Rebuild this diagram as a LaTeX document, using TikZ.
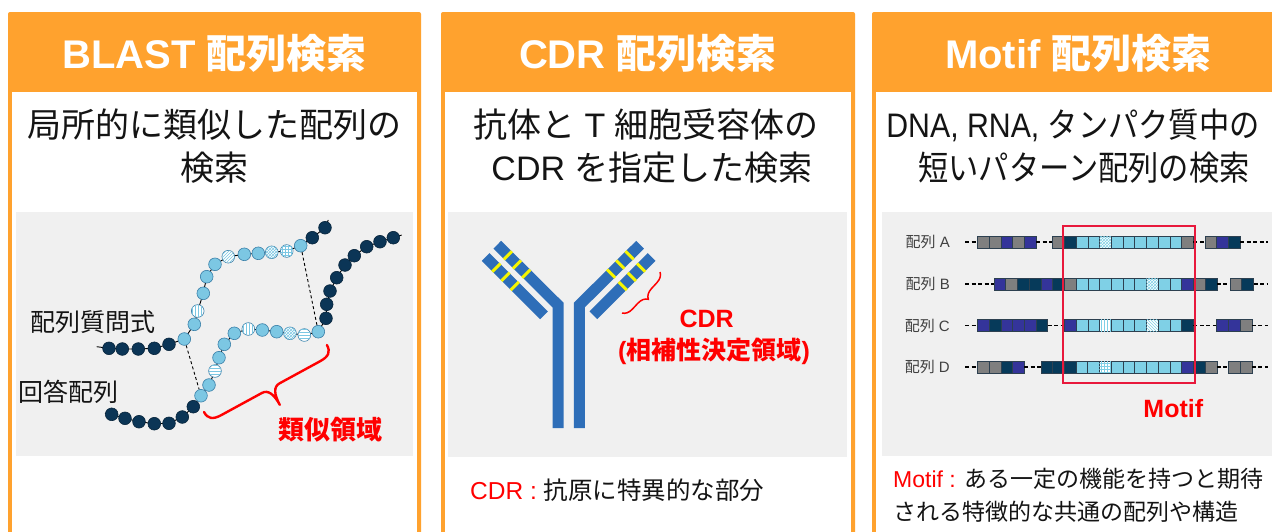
\documentclass[tikz,border=0pt]{standalone}
\usepackage{fontspec}
\setmainfont{Liberation Sans}
\newfontfamily\jp{Noto Sans CJK JP}
\newcommand\lat{\rmfamily}
\usetikzlibrary{patterns,decorations.pathreplacing,calc}

\definecolor{panelorange}{HTML}{FFA22E}
\definecolor{imgbg}{HTML}{F0F0F0}
\definecolor{txtdark}{HTML}{141414}
\definecolor{beaddark}{HTML}{0B3556}
\definecolor{beadlight}{HTML}{7CC7E3}
\definecolor{beadedge}{HTML}{3A7FA8}
\definecolor{abblue}{HTML}{2E6EB8}
\definecolor{cdryellow}{HTML}{F5F500}
\definecolor{cellgray}{HTML}{7F7F7F}
\definecolor{cellindigo}{HTML}{34349A}
\definecolor{cellnavy}{HTML}{063A5A}
\definecolor{celllight}{HTML}{7FD0E6}
\definecolor{celledge}{HTML}{2D4050}
\definecolor{motifred}{HTML}{E8193C}
\definecolor{labelred}{HTML}{FF0000}

% a run of sequence cells: start x, centre y, list of cell styles
\newcommand\seqcells[3]{%
  \foreach \st [count=\k from 0] in {#3} {
    \path[cell,\st] ({#1+\k*11.73},{#2-5.75}) rectangle ++(11.73,11.5);
  }}

\begin{document}
\begin{tikzpicture}[x=1pt,y=-1pt,
  hdr/.style={anchor=base, inner sep=0, text=white, font=\bfseries\fontsize{40}{48}\selectfont},
  sub/.style={anchor=base, inner sep=0, text=txtdark, font=\jp\fontsize{34}{40}\selectfont},
  note/.style={anchor=base west, inner sep=0, text=txtdark, font=\fontsize{23}{28}\selectfont},
  lbl/.style={anchor=base west, inner sep=0, text=txtdark, font=\jp\fontsize{25}{30}\selectfont},
  redlbl/.style={anchor=base, inner sep=0, text=labelred, font=\bfseries\fontsize{25}{30}\selectfont},
  rowlbl/.style={anchor=base east, inner sep=0, text=black!75, font=\fontsize{15}{18}\selectfont},
  chain/.style={black, line width=0.9},
  bead/.style={circle, minimum size=12.7, inner sep=0, line width=0.6},
  dk/.style={fill=beaddark, draw=beaddark!70!black},
  lt/.style={fill=beadlight, draw=beadedge},
  ptn/.style={fill=white, draw=beadedge, postaction={pattern=#1, pattern color=beadlight}},
  bV/.style={ptn=vertical lines},
  bH/.style={ptn=horizontal lines},
  bN/.style={ptn=north east lines},
  bX/.style={ptn=crosshatch},
  bG/.style={ptn=grid},
  simdash/.style={black, line width=0.9, dash pattern=on 3pt off 2.5pt},
  bracered/.style={labelred, line width=2.4, line cap=round, line join=round},
  abband/.style={abblue, line width=11, line join=miter},
  cdrmark/.style={cdryellow, line width=3},
  cell/.style={draw=celledge, line width=0.5},
  cG/.style={fill=cellgray},
  cI/.style={fill=cellindigo},
  cD/.style={fill=cellnavy},
  cL/.style={fill=celllight},
  cCk/.style={fill=white, postaction={pattern=crosshatch, pattern color=celllight}},
  cV/.style={fill=white, postaction={pattern=vertical lines, pattern color=celllight}},
  cS/.style={fill=white, postaction={pattern=north west lines, pattern color=celllight}},
  cH/.style={fill=white, postaction={pattern=grid, pattern color=celllight}},
  seqdash/.style={black, line width=1.6, dash pattern=on 4pt off 2.5pt},
  motifbox/.style={draw=motifred, line width=2, minimum width=132.3, minimum height=157.6, inner sep=0}
]
\useasboundingbox (0,0) rectangle (1272,531);
\clip (0,0) rectangle (1272,531);
\fill[white] (0,0) rectangle (1272,531);

% ---- three panels: orange frame with header band ----
\foreach \xl/\xr in {8/421, 441/855, 872/1285} {
  \fill[panelorange, rounded corners=2] (\xl,12) rectangle (\xr,580);
  \fill[white] (\xl+4,92) rectangle (\xr-4,580);
}
\fill[imgbg] (16,212) rectangle (413,456);
\fill[imgbg] (448,212) rectangle (847,457);
\fill[imgbg] (882,212) rectangle (1277,456);

% ---- headers ----
\node[hdr] (h1) at (214.5,68) {BLAST {\jp 配列検索}};
\node[hdr] (h2) at (648,68) {CDR {\jp 配列検索}};
\node[hdr] (h3) at (1078.5,68) {Motif {\jp 配列検索}};

% ---- descriptions ----
\node[sub] (s1a) at (214.5,137.5) {局所的に類似した配列の};
\node[sub] (s1b) at (214.5,180.5) {検索};
\node[sub] (s2a) at (646,137.5) {抗体と{\lat\ T\ }細胞受容体の};
\node[sub] (s2b) at (652,180.5) {{\lat CDR }を指定した検索};
\node[sub] (s3a) at (1073,137.5) {\scalebox{0.89}[1]{{\lat DNA, RNA, }タンパク質中の}};
\node[sub] (s3b) at (1084,180.5) {\scalebox{0.89}[1]{短いパターン配列の検索}};

% ================= BLAST: two bead chains =================
\coordinate (qs) at (96.7,346.7);
\coordinate (qe) at (328.3,220);
\foreach \i/\x/\y in {1/109/348.3, 2/122.3/349, 3/138.3/349, 4/154.3/348.3,
  5/169/344.3, 6/184.3/339, 7/194.3/324.3, 8/197.7/311, 9/203.3/293.3,
  10/206.7/276.7, 11/215/264.3, 12/228.3/256.7, 13/244.3/254.3, 14/258.3/253.3,
  15/271.7/252.3, 16/286.7/251, 17/300.7/245.7, 18/312.3/237.7, 19/325/227.7}
  \coordinate (q\i) at (\x,\y);
\coordinate (as) at (105,413.3);
\coordinate (ae) at (401.7,235);
\foreach \i/\x/\y in {1/111.7/414.3, 2/125/418.3, 3/139/421.7, 4/154.3/423.7,
  5/169/423.3, 6/182.3/417, 7/193.3/406.7, 8/201/395.7, 9/209/385,
  10/215/371, 11/219/357.7, 12/224.3/344.3, 13/234.3/333.3, 14/248.3/329,
  15/262.3/330, 16/276.7/331.7, 17/290/333.3, 18/304.3/335, 19/318.3/331.7,
  20/326/318.3, 21/326.7/304.3, 22/330/291, 23/336.7/277.7, 24/345/265,
  25/354.3/255.7, 26/366.7/246.7, 27/380/241.7, 28/393.3/237.7}
  \coordinate (a\i) at (\x,\y);

\draw[chain] (qs) foreach \i in {1,...,19} { -- (q\i) } -- (qe);
\draw[chain] (as) foreach \i in {1,...,28} { -- (a\i) } -- (ae);

\foreach \i/\st in {1/dk, 2/dk, 3/dk, 4/dk, 5/dk, 6/lt, 7/lt,
  8/bV, 9/lt, 10/lt, 11/lt, 12/bN, 13/lt, 14/lt, 15/bX, 16/bG, 17/lt, 18/dk, 19/dk}
  \node[bead,\st] (qb\i) at (q\i) {};
\foreach \i/\st in {1/dk, 2/dk, 3/dk, 4/dk, 5/dk, 6/dk, 7/dk, 8/lt, 9/lt,
  10/bH, 11/lt, 12/lt, 13/lt, 14/bV, 15/lt, 16/lt, 17/bX, 18/bH, 19/lt,
  20/dk, 21/dk, 22/dk, 23/dk, 24/dk, 25/dk, 26/dk, 27/dk, 28/dk}
  \node[bead,\st] (ab\i) at (a\i) {};

\draw[simdash] (qb6) -- (ab8);
\draw[simdash] (qb17) -- (ab19);

\node[lbl] (qlabel) at (30,331.5) {配列質問式};
\node[lbl] (alabel) at (18,401.5) {回答配列};

% brace under the similar region
\begin{scope}[shift={(204,412)}, rotate=28.6]
  \draw[bracered] (0,0) .. controls (0,8) and (4,11) .. (14,11) -- (60,11)
    .. controls (67,11) and (70,18) .. (70,30)
    .. controls (70,18) and (73,11) .. (80,11) -- (126,11)
    .. controls (136,11) and (140,8) .. (140,0);
\end{scope}
\node[redlbl, font=\jp\bfseries\fontsize{26}{30}\selectfont] (simlabel) at (330,439) {類似領域};

% ================= CDR: antibody =================
\draw[abband] (558,428) -- (558,305) -- (497.3,244.7);
\draw[abband] (579.4,428) -- (579.4,305) -- (640.1,244.7);
\draw[abband] (485.7,257) -- (544,315.3);
\draw[abband] (651.7,257) -- (593.4,315.3);
\foreach \px/\py/\ang in {497.3/244.7/-45, 485.7/257/-45, 640.1/244.7/-135, 651.7/257/-135} {
  \begin{scope}[shift={(\px,\py)}, rotate=\ang]
    \foreach \d in {15,28,41}
      \draw[cdrmark] (\d,-5.75) -- (\d,5.75);
  \end{scope}
}
\draw[labelred, line width=1.5, decorate, decoration={brace, amplitude=10}] (660,272) -- (622,313);
\node[redlbl] (cdrlabel) at (706.7,327) {CDR};
\node[redlbl, font=\jp\bfseries\fontsize{25}{30}\selectfont] (cdrfull) at (714,359.5) {{\lat\bfseries (}相補性決定領域{\lat\bfseries )}};

\node[note, font=\fontsize{24.5}{28}\selectfont] (n2) at (470,499) {{\color{labelred}CDR : }{\jp 抗原に特異的な部分}};

% ================= Motif: aligned sequences =================
\node[rowlbl] (rA) at (950,247.7) {{\jp 配列} A};
\node[rowlbl] (rB) at (950,289.9) {{\jp 配列} B};
\node[rowlbl] (rC) at (950,331) {{\jp 配列} C};
\node[rowlbl] (rD) at (950,372.7) {{\jp 配列} D};

% row A
\draw[seqdash] (965,242) -- (977.3,242);
\seqcells{977.3}{242}{cG,cG,cI,cG,cI}
\draw[seqdash] (1036,242) -- (1052.6,242);
\seqcells{1052.6}{242}{cG,cD,cL,cL,cCk,cL,cL,cL,cL,cL,cL,cG}
\draw[seqdash] (1193.4,242) -- (1205,242);
\seqcells{1205}{242}{cG,cI,cD}
\draw[seqdash] (1240.2,242) -- (1268,242);
% row B
\draw[seqdash] (965,284.2) -- (993.9,284.2);
\seqcells{993.9}{284.2}{cI,cG,cD,cD,cI,cD,cG,cL,cL,cL,cL,cL,cL,cCk,cL,cL,cI,cG,cD}
\draw[seqdash] (1216.8,284.2) -- (1230,284.2);
\seqcells{1230}{284.2}{cG,cD}
\draw[seqdash] (1253.5,284.2) -- (1268,284.2);
% row C
\draw[seqdash] (965,325.3) -- (977.3,325.3);
\seqcells{977.3}{325.3}{cI,cD,cI,cI,cI,cD}
\draw[seqdash] (1047.7,325.3) -- (1064.3,325.3);
\seqcells{1064.3}{325.3}{cI,cL,cL,cV,cL,cL,cL,cS,cL,cL,cD}
\draw[seqdash] (1193.4,325.3) -- (1216.7,325.3);
\seqcells{1216.7}{325.3}{cI,cI,cG}
\draw[seqdash] (1251.9,325.3) -- (1268,325.3);
% row D
\draw[seqdash] (965,367) -- (977.3,367);
\seqcells{977.3}{367}{cG,cG,cD,cI}
\draw[seqdash] (1024.2,367) -- (1040.8,367);
\seqcells{1040.8}{367}{cD,cD,cD,cL,cL,cH,cL,cL,cL,cL,cL,cL,cI,cD,cG}
\draw[seqdash] (1216.8,367) -- (1228.3,367);
\seqcells{1228.3}{367}{cG,cG}
\draw[seqdash] (1251.8,367) -- (1268,367);

\node[motifbox] (mbox) at (1128.85,304.5) {};
\node[redlbl] (motiflabel) at (1173.3,417) {Motif};

\node[note] (n3a) at (893,487) {{\color{labelred}Motif : }{\jp ある一定の機能を持つと期待}};
\node[note] (n3b) at (893,520.5) {{\jp される特徴的な共通の配列や構造}};
\end{tikzpicture}
\end{document}
